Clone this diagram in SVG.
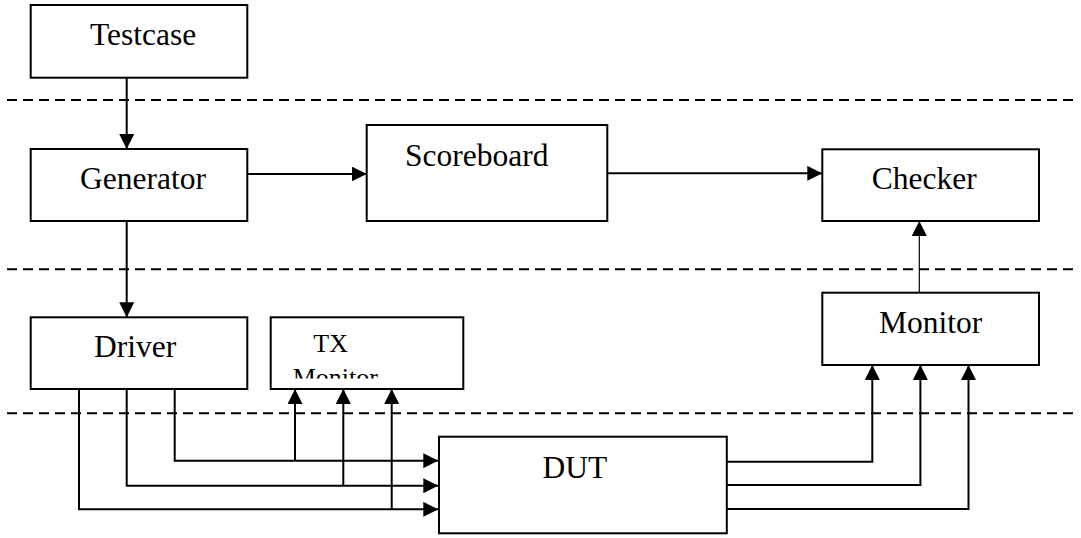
<svg xmlns="http://www.w3.org/2000/svg" width="1081" height="538" viewBox="0 0 1081 538">
  <style>
    .box { fill: #ffffff; stroke: #000000; stroke-width: 2; }
    .lbl { font-family: "Liberation Serif", "Times New Roman", serif; font-size: 31.5px; fill: #000000; }
    .lbl-sm { font-family: "Liberation Serif", "Times New Roman", serif; font-size: 26px; fill: #000000; }
    .sep { stroke: #000000; stroke-width: 2; stroke-dasharray: 10 6; fill: none; }
    .wire { stroke: #000000; stroke-width: 2; fill: none; }
    .wire-thin { stroke: #000000; stroke-width: 1.2; fill: none; }
  </style>
  <defs>
    <marker id="arrow" markerUnits="userSpaceOnUse" markerWidth="15" markerHeight="15" refX="15" refY="7.5" orient="auto">
      <path d="M0,0 L15,7.5 L0,15 Z" fill="#000000"/>
    </marker>
    <clipPath id="txClip">
      <rect x="271" y="318" width="192" height="60.5"/>
    </clipPath>
  </defs>

  <rect width="1081" height="538" fill="#ffffff"/>

  <!-- layer separators -->
  <g id="separators">
    <line class="sep" x1="7" y1="100" x2="1078" y2="100"/>
    <line class="sep" x1="7" y1="269.3" x2="1078" y2="269.3"/>
    <line class="sep" x1="7" y1="413.3" x2="1078" y2="413.3"/>
  </g>

  <!-- connectors -->
  <g id="connectors">
    <line class="wire" x1="126.7" y1="77.7" x2="126.7" y2="149" marker-end="url(#arrow)"/>
    <line class="wire" x1="247.3" y1="174" x2="366.7" y2="174" marker-end="url(#arrow)"/>
    <line class="wire" x1="607.3" y1="173.3" x2="822.3" y2="173.3" marker-end="url(#arrow)"/>
    <line class="wire" x1="126.7" y1="221" x2="126.7" y2="317.3" marker-end="url(#arrow)"/>
    <line class="wire-thin" x1="919.3" y1="292.7" x2="919.3" y2="221" marker-end="url(#arrow)"/>

    <!-- driver to DUT -->
    <polyline class="wire" points="174.7,389 174.7,460.7 438.3,460.7" marker-end="url(#arrow)"/>
    <polyline class="wire" points="126.7,389 126.7,485.7 438.3,485.7" marker-end="url(#arrow)"/>
    <polyline class="wire" points="79,389 79,509.3 438.3,509.3" marker-end="url(#arrow)"/>

    <!-- taps into TX monitor -->
    <line class="wire" x1="295" y1="460.7" x2="295" y2="389" marker-end="url(#arrow)"/>
    <line class="wire" x1="343.3" y1="485.7" x2="343.3" y2="389" marker-end="url(#arrow)"/>
    <line class="wire" x1="391.7" y1="509.3" x2="391.7" y2="389" marker-end="url(#arrow)"/>

    <!-- DUT to monitor -->
    <polyline class="wire" points="726.8,461.7 872.3,461.7 872.3,365" marker-end="url(#arrow)"/>
    <polyline class="wire" points="726.8,485 920.4,485 920.4,365" marker-end="url(#arrow)"/>
    <polyline class="wire" points="726.8,509 968.5,509 968.5,365" marker-end="url(#arrow)"/>
  </g>

  <!-- nodes -->
  <g id="testcase">
    <rect class="box" x="30.7" y="5" width="216.6" height="72.7"/>
    <text class="lbl" x="90" y="45">Testcase</text>
  </g>

  <g id="generator">
    <rect class="box" x="30.7" y="149" width="216.6" height="72"/>
    <text class="lbl" x="80" y="189.3">Generator</text>
  </g>

  <g id="scoreboard">
    <rect class="box" x="366.7" y="125" width="240.6" height="96"/>
    <text class="lbl" x="405" y="166">Scoreboard</text>
  </g>

  <g id="checker">
    <rect class="box" x="822.3" y="149.3" width="216.7" height="71.7"/>
    <text class="lbl" x="871.7" y="189.3">Checker</text>
  </g>

  <g id="driver">
    <rect class="box" x="30.7" y="317.3" width="216.6" height="71.7"/>
    <text class="lbl" x="94" y="357.3">Driver</text>
  </g>

  <g id="tx-monitor">
    <rect class="box" x="270.7" y="317.3" width="192.6" height="71.7"/>
    <g clip-path="url(#txClip)">
      <text class="lbl-sm" x="313.3" y="352.3">TX</text>
      <text class="lbl-sm" x="292.7" y="386.3">Monitor</text>
    </g>
  </g>

  <g id="monitor">
    <rect class="box" x="822.3" y="292.7" width="216.7" height="72.3"/>
    <text class="lbl" x="879" y="333.3">Monitor</text>
  </g>

  <g id="dut">
    <rect class="box" x="439" y="436.7" width="287.8" height="96.6"/>
    <text class="lbl" x="542.4" y="478.3">DUT</text>
  </g>
</svg>
